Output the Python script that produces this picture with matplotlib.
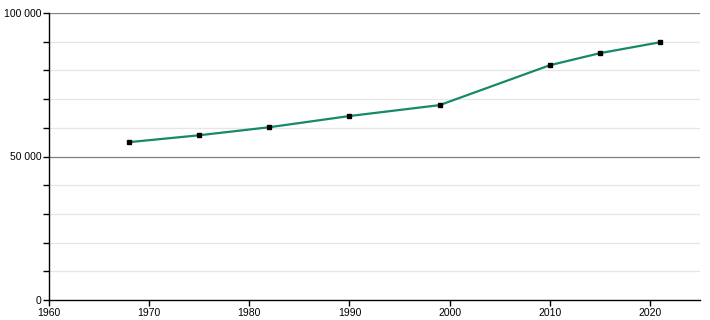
import matplotlib
matplotlib.use("Agg")
import matplotlib.pyplot as plt
from matplotlib.ticker import MultipleLocator, FuncFormatter

years = [1968, 1975, 1982, 1990, 1999, 2010, 2015, 2021]
population = [55000, 57400, 60200, 64100, 67900, 81800, 86000, 89800]

plt.rcParams['font.family'] = ['Liberation Sans', 'DejaVu Sans']

fig = plt.figure(figsize=(7.1, 3.2), dpi=100)
ax = fig.add_axes([49 / 710, 20 / 320, 651 / 710, 287 / 320])

ax.set_xlim(1960, 2025)
ax.set_ylim(0, 100000)

# grille : fine tous les 10 000, plus foncee tous les 50 000
for y in range(10000, 100001, 10000):
    if y % 50000 == 0:
        ax.axhline(y, color='#808080', lw=0.9, zorder=1)
    else:
        ax.axhline(y, color='#e6e6e6', lw=0.9, zorder=1)

ax.plot(years, population, color='#17896a', lw=1.6, zorder=3)
ax.plot(years, population, ls='none', marker='s', ms=3.5, color='black', zorder=4)

ax.xaxis.set_major_locator(MultipleLocator(10))
ax.yaxis.set_major_locator(MultipleLocator(50000))
ax.yaxis.set_minor_locator(MultipleLocator(10000))
ax.yaxis.set_major_formatter(FuncFormatter(lambda v, p: f"{int(v):,}".replace(",", " ")))

ax.tick_params(axis='both', which='major', length=4, width=1, labelsize=7.5, pad=1.5)
ax.tick_params(axis='y', which='minor', length=4, width=1)

for s in ['top', 'right']:
    ax.spines[s].set_visible(False)
for s in ['left', 'bottom']:
    ax.spines[s].set_linewidth(1)
    ax.spines[s].set_color('black')

fig.savefig('out.png', dpi=100)
